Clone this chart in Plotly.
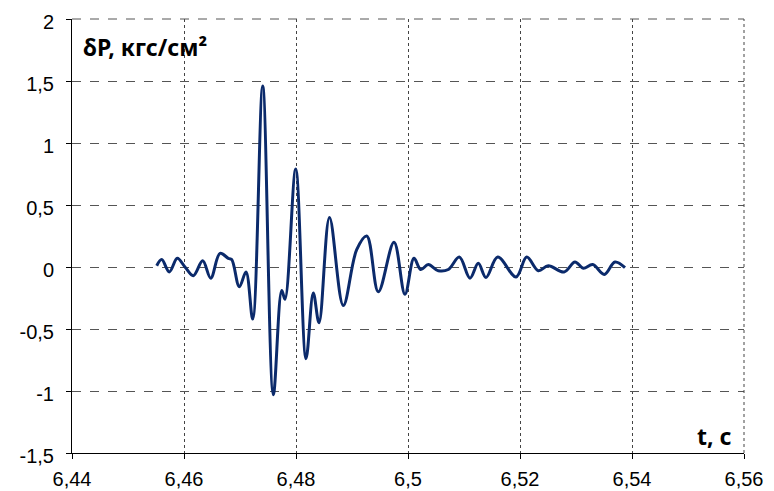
import plotly.graph_objects as go

t_vals = [6.45513, 6.45602, 6.45738, 6.45880, 6.46018, 6.46166, 6.46334, 6.46477,
          6.46643, 6.46791, 6.46852, 6.46988, 6.47107, 6.47227, 6.47405, 6.47595,
          6.47745, 6.47804, 6.47995, 6.48179, 6.48309, 6.48411, 6.48598, 6.48845,
          6.49084, 6.49263, 6.49470, 6.49750, 6.49946, 6.50107, 6.50227, 6.50363,
          6.50541, 6.50720, 6.50916, 6.51107, 6.51255, 6.51393, 6.51602, 6.51929,
          6.52120, 6.52327, 6.52505, 6.52786, 6.52982, 6.53130, 6.53298, 6.53505,
          6.53696, 6.53875]
dp_vals = [0.01, 0.06, -0.04, 0.07, 0.00, -0.07, 0.05, -0.09,
           0.11, 0.07, 0.06, -0.16, -0.04, -0.42, 1.46, -1.03,
           -0.19, -0.26, 0.79, -0.74, -0.21, -0.45, 0.40, -0.31,
           0.14, 0.25, -0.20, 0.20, -0.22, 0.07, -0.02, 0.02,
           -0.03, -0.02, 0.08, -0.09, 0.03, -0.085, 0.08, -0.08,
           0.08, -0.03, 0.01, -0.04, 0.04, -0.01, 0.02, -0.06,
           0.04, -0.005]

x_ticks = [6.44, 6.46, 6.48, 6.50, 6.52, 6.54, 6.56]
x_tick_text = ["6,44", "6,46", "6,48", "6,5", "6,52", "6,54", "6,56"]
y_ticks = [-1.5, -1, -0.5, 0, 0.5, 1, 1.5, 2]
y_tick_text = ["-1,5", "-1", "-0,5", "0", "0,5", "1", "1,5", "2"]

fig = go.Figure()
fig.add_trace(go.Scatter(
    x=t_vals, y=dp_vals, mode="lines",
    line=dict(color="#0b2a6b", width=3, shape="spline", smoothing=1.0),
    showlegend=False, hoverinfo="skip"))

font_family = "Liberation Sans, Arial, sans-serif"
label_family = "Noto Sans, Open Sans, sans-serif"
fig.update_layout(
    width=766, height=483,
    margin=dict(l=64, r=30, t=11, b=38),
    paper_bgcolor="white", plot_bgcolor="white",
    font=dict(family=font_family, size=20, color="black"),
    xaxis=dict(range=[6.44, 6.56], tickvals=x_ticks, ticktext=x_tick_text,
               showline=True, linecolor="black", linewidth=1,
               ticks="outside", ticklen=5, tickcolor="black",
               ticklabelstandoff=3, automargin=False, ticklabeloverflow="allow",
               showgrid=True, gridcolor="#444", griddash="dot", gridwidth=1,
               zeroline=False, tickfont=dict(size=20)),
    yaxis=dict(range=[-1.5, 2], tickvals=y_ticks, ticktext=y_tick_text,
               showline=True, linecolor="black", linewidth=1,
               ticks="outside", ticklen=5, tickcolor="black",
               ticklabelstandoff=8, ticklabelshift=3,
               automargin=False, ticklabeloverflow="allow",
               showgrid=True, gridcolor="#555", griddash="dash", gridwidth=1,
               zeroline=False, tickfont=dict(size=20)),
    shapes=[
        dict(type="line", xref="paper", yref="paper", x0=0, x1=1, y0=1, y1=1,
             line=dict(color="#555", width=1, dash="dash")),
        dict(type="line", xref="paper", yref="paper", x0=1, x1=1, y0=0, y1=1,
             line=dict(color="#444", width=1, dash="dot")),
    ],
    annotations=[
        dict(text="<b>δP, кгс/см²</b>", xref="paper", yref="paper",
             x=0.014, y=0.935, xanchor="left", yanchor="middle", showarrow=False,
             font=dict(size=23, family=label_family, color="black")),
        dict(text="<b>t, c</b>", xref="paper", yref="paper",
             x=0.985, y=0.04, xanchor="right", yanchor="middle", showarrow=False,
             font=dict(size=23, family=label_family, color="black")),
    ],
)

fig.write_html("out.html")
